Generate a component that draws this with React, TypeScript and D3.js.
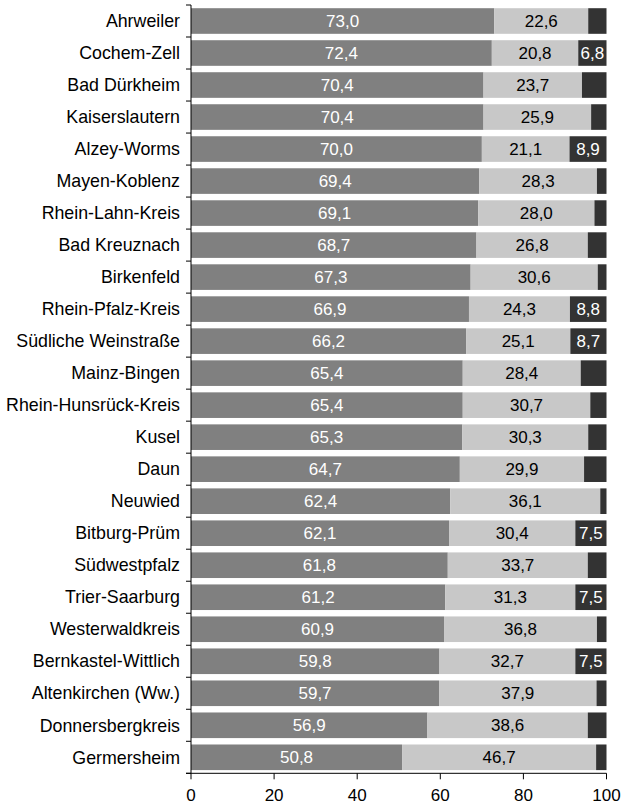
import React, { useEffect, useRef } from "react";
import * as d3 from "d3";

const categories = [
  "Ahrweiler", "Cochem-Zell", "Bad Dürkheim", "Kaiserslautern", "Alzey-Worms",
  "Mayen-Koblenz", "Rhein-Lahn-Kreis", "Bad Kreuznach", "Birkenfeld", "Rhein-Pfalz-Kreis",
  "Südliche Weinstraße", "Mainz-Bingen", "Rhein-Hunsrück-Kreis", "Kusel", "Daun",
  "Neuwied", "Bitburg-Prüm", "Südwestpfalz", "Trier-Saarburg", "Westerwaldkreis",
  "Bernkastel-Wittlich", "Altenkirchen (Ww.)", "Donnersbergkreis", "Germersheim",
];
const series1 = [73.0, 72.4, 70.4, 70.4, 70.0, 69.4, 69.1, 68.7, 67.3, 66.9, 66.2, 65.4, 65.4, 65.3, 64.7, 62.4, 62.1, 61.8, 61.2, 60.9, 59.8, 59.7, 56.9, 50.8];
const series2 = [22.6, 20.8, 23.7, 25.9, 21.1, 28.3, 28.0, 26.8, 30.6, 24.3, 25.1, 28.4, 30.7, 30.3, 29.9, 36.1, 30.4, 33.7, 31.3, 36.8, 32.7, 37.9, 38.6, 46.7];
const series3 = [4.4, 6.8, 5.9, 3.7, 8.9, 2.3, 2.9, 4.5, 2.1, 8.8, 8.7, 6.2, 3.9, 4.4, 5.4, 1.5, 7.5, 4.5, 7.5, 2.3, 7.5, 2.4, 4.5, 2.5];
const xTicks = [0, 20, 40, 60, 80, 100];

const colors = ["#808080", "#c8c8c8", "#333333"];
const textColors = ["#ffffff", "#000000", "#ffffff"];
const FONT = "'Liberation Sans', Arial, Helvetica, sans-serif";

export default function App() {
  const ref = useRef<SVGSVGElement>(null);
  useEffect(() => {
    document.body.style.margin = "0";
    const svg = d3.select(ref.current);
    svg.selectAll("*").remove();
    const x = d3.scaleLinear().domain([0, 100]).range([191, 606.5]);
    const y = d3.scaleBand<string>().domain(categories).range([5, 773.3]).paddingInner(0.2).paddingOuter(0.1);
    const fmt = (v: number) => v.toFixed(1).replace(".", ",");
    const data = categories.map((c, i) => ({ c, vals: [series1[i], series2[i], series3[i]] }));
    const g = svg.append("g");
    data.forEach((d) => {
      let acc = 0;
      d.vals.forEach((v, k) => {
        const x0 = x(acc), x1 = x(acc + v);
        g.append("rect")
          .attr("x", x0).attr("y", y(d.c)!).attr("width", x1 - x0).attr("height", y.bandwidth())
          .attr("fill", colors[k]);
        const show = k < 2 || v >= 6.5;
        if (show) {
          g.append("text")
            .attr("x", (x0 + x1) / 2).attr("y", y(d.c)! + y.bandwidth() / 2)
            .attr("dy", "0.35em").attr("text-anchor", "middle")
            .attr("font-family", FONT).attr("font-size", 17)
            .attr("fill", textColors[k]).text(fmt(v));
        }
        acc += v;
      });
    });
    // left axis
    const yl = svg.append("g").attr("transform", "translate(191,0)");
    yl.append("line").attr("x1", 0).attr("x2", 0).attr("y1", 5).attr("y2", 773.3).attr("stroke", "#000");
    const bounds = d3.range(categories.length + 1).map((i) => 5 + i * y.step());
    bounds.forEach((b) => {
      yl.append("line").attr("x1", -5).attr("x2", 0).attr("y1", b).attr("y2", b).attr("stroke", "#000");
    });
    categories.forEach((c) => {
      yl.append("text").attr("x", -11).attr("y", y(c)! + y.bandwidth() / 2).attr("dy", "0.35em")
        .attr("text-anchor", "end").attr("font-family", FONT).attr("font-size", 17.8).attr("fill", "#000").text(c);
    });
    // bottom axis
    const xa = svg.append("g").attr("transform", "translate(0,773.3)");
    xa.append("line").attr("x1", 186).attr("x2", 606.5).attr("y1", 0).attr("y2", 0).attr("stroke", "#000");
    xTicks.forEach((t) => {
      xa.append("line").attr("x1", x(t)).attr("x2", x(t)).attr("y1", 0).attr("y2", 6).attr("stroke", "#000");
      xa.append("text").attr("x", x(t)).attr("y", 22).attr("dy", "0.35em").attr("text-anchor", "middle")
        .attr("font-family", FONT).attr("font-size", 17).attr("fill", "#000").text(String(t));
    });
  }, []);
  return <svg ref={ref} width={627} height={806} style={{ display: "block" }} />;
}
